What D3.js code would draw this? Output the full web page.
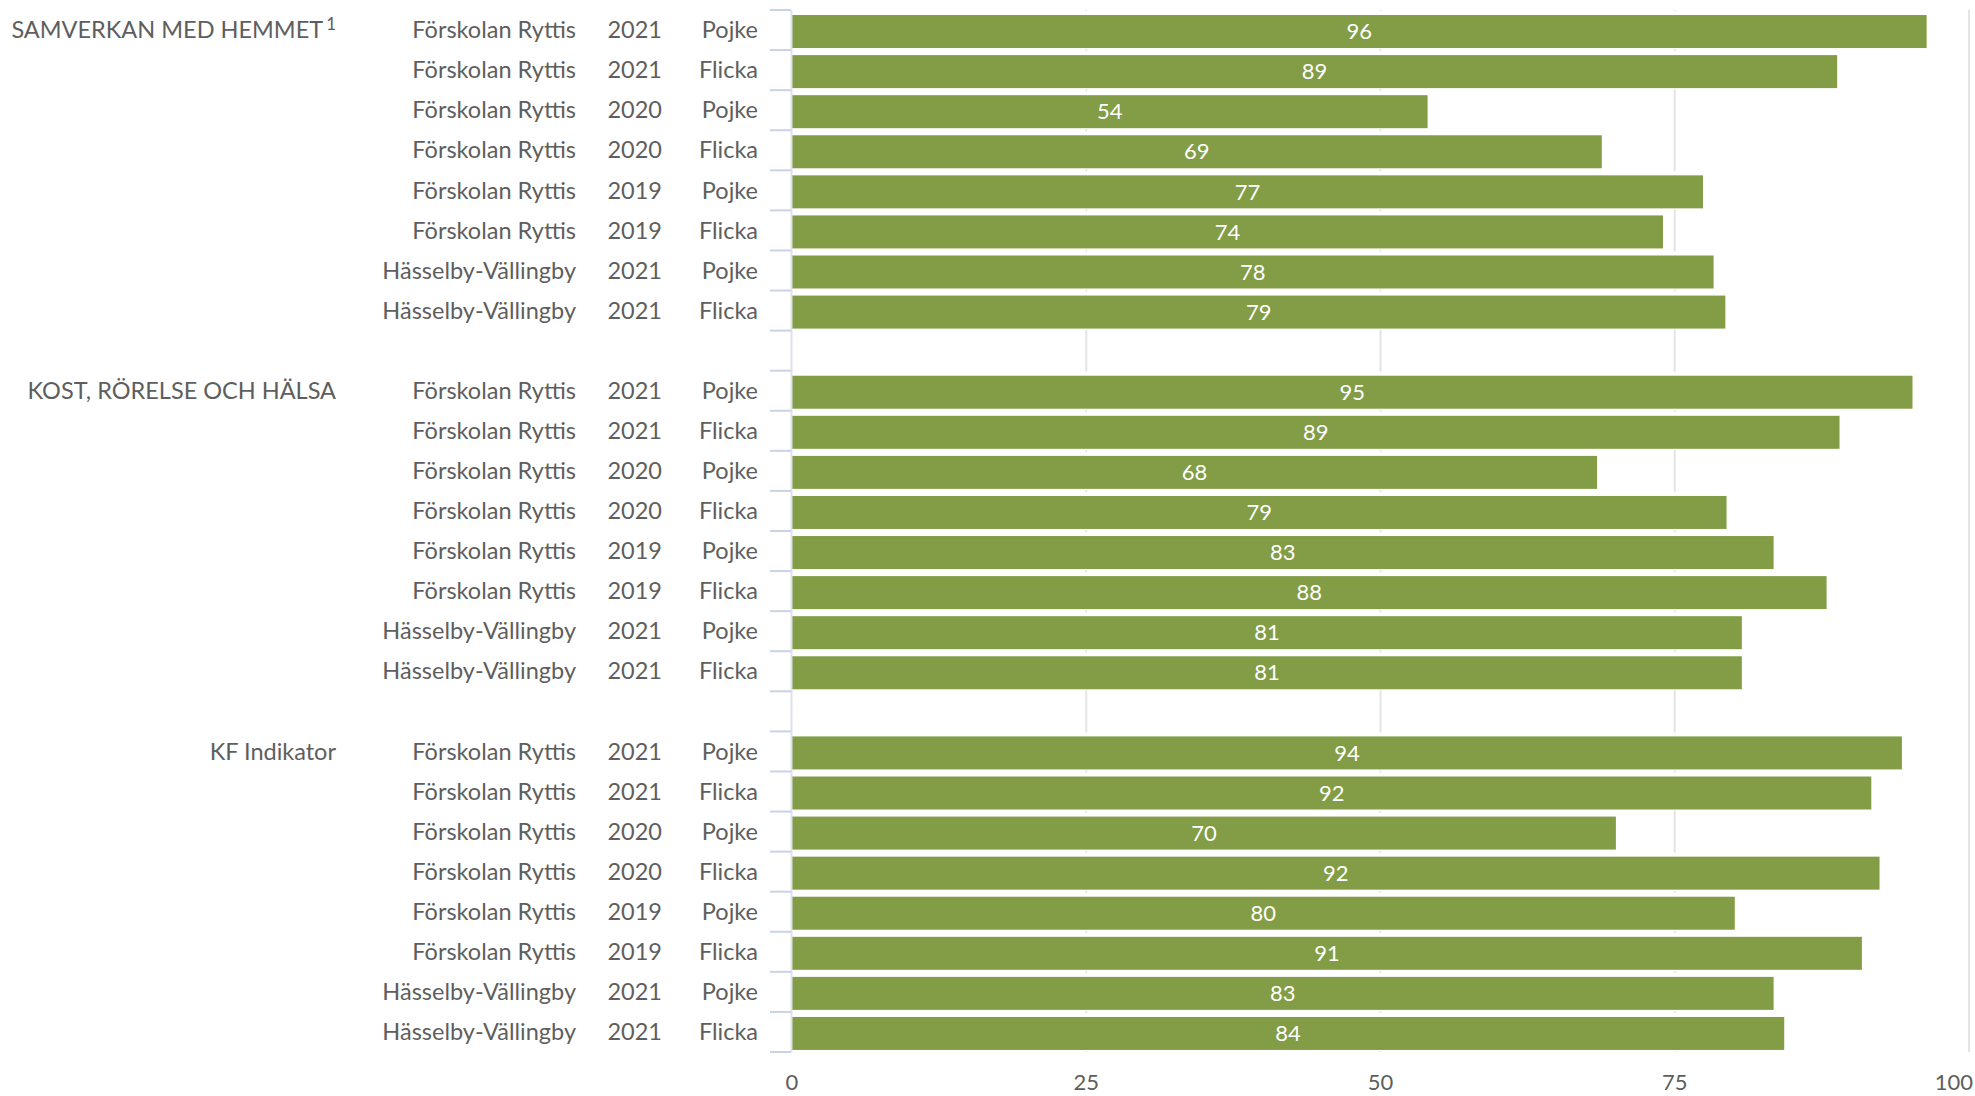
<!DOCTYPE html>
<meta charset="utf-8">
<script src="https://d3js.org/d3.v7.min.js"></script>
<style>
  body { margin: 0; background: #fff; }
  text { font-family: Lato, "Open Sans", sans-serif; fill: #5e5e5e; }
</style>
<div id="chart"></div>
<script>

  // categories
  const groups = ["SAMVERKAN MED HEMMET", "KOST, RÖRELSE OCH HÄLSA", "KF Indikator"]
  const units = ["Förskolan Ryttis", "Förskolan Ryttis", "Förskolan Ryttis", "Förskolan Ryttis",
                 "Förskolan Ryttis", "Förskolan Ryttis", "Hässelby-Vällingby", "Hässelby-Vällingby"]
  const years = ["2021", "2021", "2020", "2020", "2019", "2019", "2021", "2021"]
  const genders = ["Pojke", "Flicka", "Pojke", "Flicka", "Pojke", "Flicka", "Pojke", "Flicka"]

  // values per group (percent)
  const samverkan = [96.4, 88.8, 54.0, 68.8, 77.4, 74.0, 78.3, 79.3]
  const kost = [95.2, 89.0, 68.4, 79.4, 83.4, 87.9, 80.7, 80.7]
  const kfIndikator = [94.3, 91.7, 70.0, 92.4, 80.1, 90.9, 83.4, 84.3]

  const xTicks = [0, 25, 50, 75, 100]

  const width = 1975
  const height = 1096

  const svg = d3.select("#chart")
    .append("svg")
      .attr("width", width)
      .attr("height", height)

  // build rows: 8 per group, plus an empty spacer row between groups
  const seriesList = [samverkan, kost, kfIndikator]
  const rows = []
  const rowKeys = []
  groups.forEach((g, gi) => {
    seriesList[gi].forEach((v, i) => {
      const key = g + "|" + i
      rows.push({ key, group: g, first: i === 0, unit: units[i], year: years[i], gender: genders[i], value: v })
      rowKeys.push(key)
    })
    if (gi < groups.length - 1) rowKeys.push("spacer" + gi)
  })

  const x = d3.scaleLinear().domain([0, 100]).range([792, 1969])
  const y = d3.scaleBand().domain(rowKeys).range([10, 1052]).padding(0)
  const step = y.step()
  const barH = 33
  const fs = "23.5px"

  // vertical gridlines
  svg.append("g")
    .selectAll("line")
    .data(xTicks.filter(d => d > 0))
    .join("line")
      .attr("x1", d => x(d))
      .attr("x2", d => x(d))
      .attr("y1", 10)
      .attr("y2", 1052)
      .attr("stroke", "#e4e4e4")
      .attr("stroke-width", 2)

  // white backing behind each bar so gridlines only peek through at band edges
  svg.append("g")
    .selectAll("rect")
    .data(rows)
    .join("rect")
      .attr("x", x(0))
      .attr("y", d => y(d.key) + 1)
      .attr("width", d => x(d.value) - x(0) + 1)
      .attr("height", step - 2)
      .attr("fill", "#fff")

  // bars
  svg.append("g")
    .selectAll("rect")
    .data(rows)
    .join("rect")
      .attr("x", x(0))
      .attr("y", d => y(d.key) + (step - barH) / 2 + 1.5)
      .attr("width", d => x(d.value) - x(0))
      .attr("height", barH)
      .attr("fill", "#829D45")

  // value labels
  svg.append("g")
    .selectAll("text")
    .data(rows)
    .join("text")
      .attr("x", d => (x(0) + x(d.value)) / 2)
      .attr("y", d => y(d.key) + step / 2 + 1.5)
      .attr("dy", "0.35em")
      .attr("text-anchor", "middle")
      .style("fill", "#fff")
      .style("font-size", "22px")
      .text(d => d3.format(".0f")(d.value))

  // left axis line and band-boundary ticks
  const axisG = svg.append("g")
  axisG.append("line")
    .attr("x1", x(0) - 0.5).attr("x2", x(0) - 0.5)
    .attr("y1", 10).attr("y2", 1052)
    .attr("stroke", "#dde1ea")
    .attr("stroke-width", 2)
  axisG.selectAll("line.tick")
    .data(rowKeys.map(k => y(k)).concat([y.range()[1]]))
    .join("line")
      .attr("class", "tick")
      .attr("x1", 770).attr("x2", x(0) - 1)
      .attr("y1", d => d).attr("y2", d => d)
      .attr("stroke", "#c8d3e8")
      .attr("stroke-width", 2)

  // row label columns
  const cols = [
    { field: "unit", x: 576 },
    { field: "year", x: 662 },
    { field: "gender", x: 758 }
  ]
  cols.forEach(c => {
    svg.append("g")
      .selectAll("text")
      .data(rows)
      .join("text")
        .attr("x", c.x)
        .attr("y", d => y(d.key) + step / 2)
        .attr("dy", "0.35em")
        .attr("text-anchor", "end")
        .style("font-size", fs)
        .text(d => d[c.field])
  })

  // group labels
  const gl = svg.append("g")
    .selectAll("text")
    .data(rows.filter(d => d.first))
    .join("text")
      .attr("x", 336)
      .attr("y", d => y(d.key) + step / 2)
      .attr("dy", "0.35em")
      .attr("text-anchor", "end")
      .style("font-size", fs)
  gl.append("tspan").text(d => d.group)
  gl.filter(d => d.group === groups[0])
    .append("tspan")
      .attr("dx", 3)
      .attr("dy", "-0.5em")
      .style("font-size", "17px")
      .text("1")

  // x axis tick labels
  svg.append("g")
    .selectAll("text")
    .data(xTicks)
    .join("text")
      .attr("x", d => d === 100 ? 1973 : x(d))
      .attr("y", 1082)
      .attr("dy", "0.35em")
      .attr("text-anchor", d => d === 100 ? "end" : "middle")
      .style("font-size", "22px")
      .text(d => d)

</script>
